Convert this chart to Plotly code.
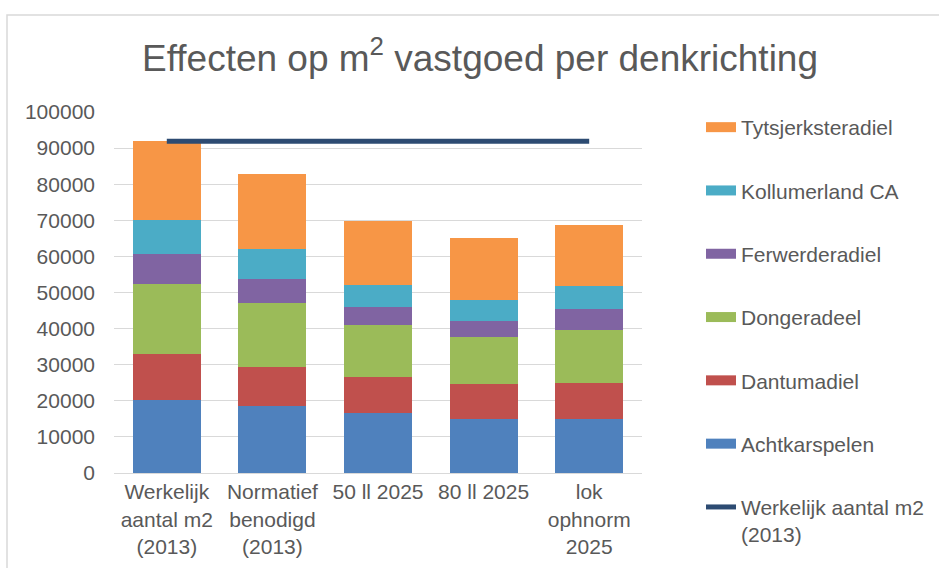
import plotly.graph_objects as go

categories = ["Werkelijk<br>aantal m2<br>(2013)", "Normatief<br>benodigd<br>(2013)",
              "50 ll 2025", "80 ll 2025", "lok<br>ophnorm<br>2025"]

achtkarspelen = [20300, 18500, 16600, 15000, 15000]
dantumadiel = [12600, 10800, 9950, 9600, 10050]
dongeradeel = [19500, 17800, 14450, 13150, 14550]
ferwerderadiel = [8150, 6700, 4900, 4400, 5700]
kollumerland = [9650, 8200, 6250, 5800, 6550]
tytsjerksteradiel = [21700, 20950, 17700, 17050, 16800]
werkelijk = [91900, 91900, 91900, 91900, 91900]

series = [
    ("Achtkarspelen", achtkarspelen, "#4F81BD"),
    ("Dantumadiel", dantumadiel, "#C0504D"),
    ("Dongeradeel", dongeradeel, "#9BBB59"),
    ("Ferwerderadiel", ferwerderadiel, "#8064A2"),
    ("Kollumerland CA", kollumerland, "#4BACC6"),
    ("Tytsjerksteradiel", tytsjerksteradiel, "#F79646"),
]

FONT = "Liberation Sans, Arial, sans-serif"
TXT = "#595959"

fig = go.Figure()
n = len(series)
for i, (name, vals, col) in enumerate(series):
    fig.add_trace(go.Bar(x=categories, y=vals, name=name, marker_color=col,
                         marker_line_width=0, showlegend=False, legendgroup=name))
    # legend proxy with a wide flat symbol
    fig.add_trace(go.Scatter(x=[None], y=[None], mode="lines", name=name,
                             line=dict(color=col, width=10), legendgroup=name,
                             legendrank=n - i, showlegend=True, hoverinfo="skip"))

fig.add_trace(go.Scatter(x=categories, y=werkelijk, mode="lines",
                         name="Werkelijk aantal m2<br>(2013)",
                         line=dict(color="#2D4B72", width=5), legendgroup="werk",
                         legendrank=n + 1))

L, R, T, B = 114, 297, 112, 95
W, H = 939, 568
pw, ph = W - L - R, H - T - B

fig.update_layout(
    width=W, height=H,
    margin=dict(l=L, r=R, t=T, b=B, pad=0, autoexpand=False),
    barmode="stack", bargap=0.356,
    paper_bgcolor="white", plot_bgcolor="white",
    font=dict(family=FONT, size=21, color=TXT),
    title=dict(text="Effecten op m<sup>2</sup> vastgoed per denkrichting",
               x=480 / W, xanchor="center", y=1 - 58 / H, yanchor="middle",
               font=dict(size=37, color=TXT, family=FONT)),
    xaxis=dict(showgrid=False, showline=True, linecolor="#D9D9D9", linewidth=1,
               ticks="", tickfont=dict(size=21, color=TXT)),
    yaxis=dict(range=[0, 100000], dtick=10000, showgrid=True, gridcolor="#D9D9D9",
               gridwidth=1, zeroline=False, ticks="", tickformat="d",
               ticklabelstandoff=18, tickfont=dict(size=21, color=TXT)),
    legend=dict(xref="container", yref="container",
                x=701 / W, xanchor="left", y=1 - 107 / H, yanchor="top",
                traceorder="grouped", tracegroupgap=33, valign="top",
                font=dict(size=21, color=TXT, family=FONT), bgcolor="rgba(0,0,0,0)",
                maxheight=520),
    shapes=[dict(type="rect", xref="paper", yref="paper",
                 x0=(7 - L) / pw, x1=(945 - L) / pw,
                 y0=-0.4, y1=(H - B - 15) / ph,
                 line=dict(color="#D9D9D9", width=1.5), layer="below")],
)

fig.write_html("out.html", config={"displayModeBar": False},
               post_script="document.body.style.margin='0';")
